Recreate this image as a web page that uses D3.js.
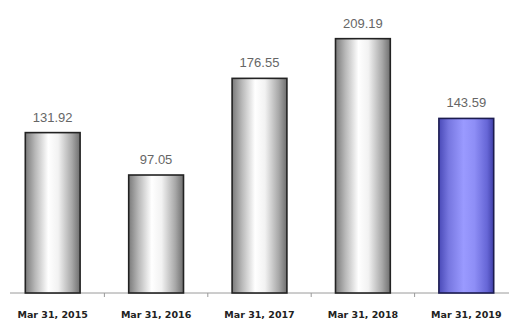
<!DOCTYPE html>
<html>
<head>
<meta charset="utf-8">
<script src="https://cdn.jsdelivr.net/npm/d3@7"></script>
<style>
  body { margin: 0; background: #fff; }
  svg { display: block; }
</style>
</head>
<body>
<div id="chart"></div>
<script>
// chart data
var categories = ["Mar 31, 2015", "Mar 31, 2016", "Mar 31, 2017", "Mar 31, 2018", "Mar 31, 2019"];
var values = [131.92, 97.05, 176.55, 209.19, 143.59];
var highlight = ["Mar 31, 2019"];

var width = 509, height = 324;
var baseline = 293;

var svg = d3.select("#chart").append("svg")
  .attr("width", width)
  .attr("height", height);

var defs = svg.append("defs");

function cylinder(id, stops) {
  var g = defs.append("linearGradient")
    .attr("id", id)
    .attr("x1", "0%").attr("x2", "100%")
    .attr("y1", "0%").attr("y2", "0%");
  stops.forEach(function(s) {
    g.append("stop").attr("offset", s[0]).attr("stop-color", s[1]);
  });
}

cylinder("gray", [["0%", "#7a7a7a"], ["18%", "#b8b8b8"], ["42%", "#ffffff"], ["60%", "#f2f2f2"], ["85%", "#a8a8a8"], ["100%", "#6e6e6e"]]);
cylinder("blue", [["0%", "#4a4ab8"], ["18%", "#7777e0"], ["45%", "#9a9aff"], ["65%", "#8e8ef6"], ["88%", "#6666d6"], ["100%", "#4040a8"]]);

var x = d3.scaleBand()
  .domain(categories)
  .range([1, 518])
  .paddingInner(0.47)
  .paddingOuter(0.235);

var y = d3.scaleLinear()
  .domain([0, 241])
  .range([baseline, 0]);

// axis line with ticks between bars
svg.append("line")
  .attr("x1", 10).attr("x2", width)
  .attr("y1", baseline).attr("y2", baseline)
  .style("stroke", "#9a9a9a")
  .style("stroke-width", 1);

svg.selectAll("line.sep")
  .data(categories.slice(1))
  .enter()
  .append("line")
  .attr("class", "sep")
  .attr("x1", function(d) { return x(d) - x.step() * x.paddingInner() / 2; })
  .attr("x2", function(d) { return x(d) - x.step() * x.paddingInner() / 2; })
  .attr("y1", baseline)
  .attr("y2", baseline + 4)
  .style("stroke", "#9a9a9a");

svg.selectAll("rect.bar")
  .data(values)
  .enter()
  .append("rect")
  .attr("class", "bar")
  .attr("x", function(d, i) { return x(categories[i]); })
  .attr("y", function(d) { return y(d); })
  .attr("width", x.bandwidth())
  .attr("height", function(d) { return baseline - y(d); })
  .attr("fill", function(d, i) { return highlight.indexOf(categories[i]) >= 0 ? "url(#blue)" : "url(#gray)"; })
  .style("stroke", function(d, i) { return highlight.indexOf(categories[i]) >= 0 ? "#1c1c50" : "#222"; })
  .style("stroke-width", 1.6);

svg.selectAll("text.value")
  .data(values)
  .enter()
  .append("text")
  .attr("class", "value")
  .attr("x", function(d, i) { return x(categories[i]) + x.bandwidth() / 2; })
  .attr("y", function(d) { return y(d) - 11; })
  .attr("text-anchor", "middle")
  .style("font-family", "'Liberation Sans', Arial, sans-serif")
  .style("font-size", "13px")
  .style("fill", "#666")
  .text(function(d) { return d3.format(".2f")(d); });

svg.selectAll("text.cat")
  .data(categories)
  .enter()
  .append("text")
  .attr("class", "cat")
  .attr("x", function(d) { return x(d) + x.bandwidth() / 2; })
  .attr("y", 318)
  .attr("text-anchor", "middle")
  .style("font-family", "'DejaVu Sans', Verdana, sans-serif")
  .style("font-size", "9.5px")
  .style("font-weight", "bold")
  .style("fill", "#222")
  .text(function(d) { return d; });
</script>
</body>
</html>
